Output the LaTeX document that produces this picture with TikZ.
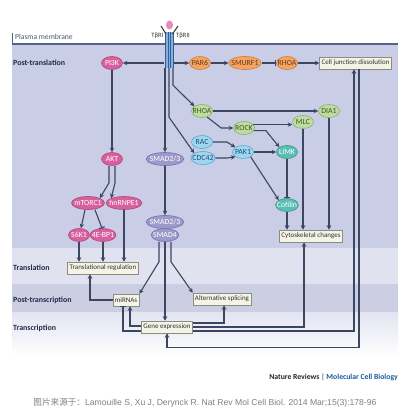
\documentclass[tikz,border=0pt]{standalone}
\usepackage{fontspec}
\setmainfont{Carlito}
\newfontfamily\cjkf{Noto Sans CJK SC}
\newfontfamily\arialf{Liberation Sans}
\usetikzlibrary{arrows.meta,shapes.geometric,calc}
\definecolor{bandA}{HTML}{C9CDE6}
\definecolor{bandB}{HTML}{E0E2F0}
\definecolor{bandC}{HTML}{CCCFE4}
\definecolor{bandD}{HTML}{E2E4F1}
\definecolor{memC}{HTML}{55628A}
\definecolor{lineC}{HTML}{3B4663}
\definecolor{lblC}{HTML}{1F2A4A}
\definecolor{pinkF}{HTML}{D7609E}
\definecolor{pinkD}{HTML}{B0457C}
\definecolor{orF}{HTML}{F3A463}
\definecolor{orD}{HTML}{D37A35}
\definecolor{orT}{HTML}{6B3A10}
\definecolor{grF}{HTML}{BEDCA0}
\definecolor{grD}{HTML}{86B26A}
\definecolor{grT}{HTML}{3D5A20}
\definecolor{blF}{HTML}{9DD6EE}
\definecolor{blD}{HTML}{55A8D0}
\definecolor{blT}{HTML}{1F4F7A}
\definecolor{tlF}{HTML}{5BBDB4}
\definecolor{tlD}{HTML}{36968E}
\definecolor{ppF}{HTML}{9C9ACB}
\definecolor{ppD}{HTML}{7471AA}
\definecolor{boxF}{HTML}{F4F4E6}
\definecolor{boxD}{HTML}{8C8C80}
\definecolor{boxT}{HTML}{333333}
\definecolor{recF}{HTML}{86B0DA}
\definecolor{recD}{HTML}{2D5E9A}
\definecolor{ligF}{HTML}{E58BBE}
\definecolor{natB}{HTML}{1A5C9E}
\begin{document}
\begin{tikzpicture}[x=1pt,y=-1pt,
  ov/.style={ellipse, draw, line width=0.6pt, inner xsep=-2pt, inner ysep=-1pt, minimum height=13pt, minimum width=21pt, font=\fontsize{7.8}{8}\selectfont},
  pinkn/.style={ov, fill=pinkF, draw=pinkD, text=white},
  orn/.style={ov, fill=orF, draw=orD, text=orT},
  grn/.style={ov, fill=grF, draw=grD, text=grT},
  bln/.style={ov, fill=blF, draw=blD, text=blT},
  tln/.style={ov, fill=tlF, draw=tlD, text=white},
  ppn/.style={ov, fill=ppF, draw=ppD, text=white},
  bx/.style={rectangle, draw=boxD, fill=boxF, line width=0.5pt, inner xsep=2pt, inner ysep=1pt, minimum height=12pt, font=\fontsize{7}{8}\selectfont, text=boxT},
  arr/.style={draw=lineC, line width=1.1pt, -{Stealth[length=4.5pt,width=4.5pt]}},
  inh/.style={draw=lineC, line width=1.1pt, -{Bar[width=6pt]}},
  lbl/.style={font=\bfseries\fontsize{7.9}{9}\selectfont, text=lblC, anchor=west, inner sep=0pt}
]
\useasboundingbox (0,0) rectangle (420,420);
\fill[white] (0,0) rectangle (420,420);
% bands
\fill[bandA] (12,44) rectangle (398,248);
\fill[bandB] (12,248) rectangle (398,284);
\fill[bandC] (12,284) rectangle (398,312);
\shade[top color=bandD, bottom color=white] (12,312) rectangle (398,356);
\draw[memC, line width=1.6pt] (12,44) -- (398,44);
\draw[memC, line width=0.6pt] (12,33) -- (12,44);
\node[anchor=west, inner sep=0pt, font=\fontsize{7.6}{9}\selectfont, text=lblC!80] (pm) at (15,37) {Plasma membrane};
\node[lbl] (l1) at (13,63) {Post-translation};
\node[lbl] (l2) at (13,268) {Translation};
\node[lbl] (l3) at (13,300) {Post-transcription};
\node[lbl] (l4) at (13,328) {Transcription};

% receptor
\node[rectangle, fill=recF, minimum width=9pt, minimum height=36pt, inner sep=0pt] (rec) at (169,50) {};
\foreach \xx in {165.5,168,170.5,173}{\draw[recD, line width=0.7pt] (\xx,32) -- (\xx,68);}
\draw[black!80, line width=1pt] (166,34) -- (161,26);
\draw[black!80, line width=1pt] (172.5,34) -- (178,26);
\node[ellipse, fill=ligF, minimum width=7pt, minimum height=9pt, inner sep=0pt] (lig) at (169.5,25) {};
\node[anchor=east, inner sep=0pt, font=\fontsize{6.6}{7}\selectfont, text=boxT] (t1) at (163.5,36) {TβRI};
\node[anchor=west, inner sep=0pt, font=\fontsize{6.6}{7}\selectfont, text=boxT] (t2) at (176,36) {TβRII};

% nodes
\node[pinkn] (pi3k) at (112,63) {PI3K};
\node[orn] (par6) at (200,63) {PAR6};
\node[orn] (smurf) at (245,63) {SMURF1};
\node[orn] (rhoaO) at (287,63) {RHOA};
\node[bx] (cjd) at (355.5,63) {Cell junction dissolution};
\node[grn] (rhoaG) at (202,111) {RHOA};
\node[grn] (rock) at (244,128) {ROCK};
\node[grn] (mlc) at (303,122) {MLC};
\node[grn] (dia) at (329,111) {DIA1};
\node[bln] (rac) at (202,142) {RAC};
\node[bln] (cdc) at (203,158) {CDC42};
\node[bln] (pak) at (243,152) {PAK1};
\node[tln] (limk) at (287,152) {LIMK};
\node[tln] (cof) at (287,205) {Cofilin};
\node[bx] (cyto) at (311,236) {Cytoskeletal changes};
\node[ppn] (smad) at (165,159) {SMAD2/3};
\node[ppn] (smadb) at (165,222) {SMAD2/3};
\node[ppn] (smad4) at (165,235) {SMAD4};
\node[pinkn] (akt) at (112,159) {AKT};
\node[pinkn] (mtor) at (88,203) {mTORC1};
\node[pinkn] (hnr) at (124,203) {hnRNPE1};
\node[pinkn] (s6k) at (79,235) {S6K1};
\node[pinkn] (ebp) at (103,235) {4E-BP1};
\node[bx] (trans) at (103,268) {Translational regulation};
\node[bx] (mir) at (126,300) {miRNAs};
\node[bx] (alt) at (222,299) {Alternative splicing};
\node[bx] (gene) at (167,327) {Gene expression};

% connectors top
\draw[arr] ([yshift=-13pt]rec.west) -- (pi3k.east);
\draw[arr] ([yshift=-13pt]rec.east) -- (par6.west);
\draw[arr] (par6.east) -- (smurf.west);
\draw[inh] (smurf.east) -- (rhoaO.west);
\draw[arr] (rhoaO.east) -- (cjd.west);
\draw[arr] ([xshift=-4pt]rec.south) -- (smad.north);
\draw[arr] (rec.south) -- ++(0,49) -- (cdc.north west);
\draw[arr] ([xshift=4pt]rec.south) -- ++(0,17) -- (rhoaG.north west);
\draw[arr] (rhoaG.east) -- (dia.west);
\draw[arr] (rhoaG.-50) -- ([xshift=-12pt]rock.west) -- (rock.west);
\draw[arr] (rock.20) -- (rock.20 -| mlc.west);
\draw[arr] (rock.-15) -- ++(12,0) -- (limk.north west);
\draw[arr] (rac.east) -- ++(14,0) -- (pak.north west);
\draw[arr] (cdc.east) -- ++(12,0) -- (pak.south west);
\draw[arr] (pak.east) -- (limk.west);
\draw[arr] (pak.south east) -- (cof.north west);
\draw[inh] (limk.south) -- (cof.north);
\draw[arr] (cof.south) -- (cof.south |- cyto.north);
\draw[arr] (mlc.south) -- (mlc.south |- cyto.north);
\draw[arr] (dia.south) -- (dia.south |- cyto.north);
% left branch
\draw[arr] (pi3k.south) -- (akt.north);
\draw[arr] ([xshift=-3pt]akt.south) -- ++(0,17) -- (mtor.north east);
\draw[arr] ([xshift=3pt]akt.south) -- ++(0,17) -- (hnr.north west);
\draw[arr] ([xshift=-3pt]mtor.south) -- ([xshift=2pt]s6k.north);
\draw[inh] ([xshift=7pt]mtor.south) -- ([xshift=-1pt]ebp.north);
\draw[arr] (s6k.south) -- (s6k.south |- trans.north);
\draw[arr] (ebp.south) -- (ebp.south |- trans.north);
\draw[arr] (hnr.south) -- (hnr.south |- trans.north);
% smad
\draw[arr] (smad.south) -- (smadb.north);
\draw[arr] ([xshift=-6pt]smad4.south) -- ++(0,20) -- (mir.north east);
\draw[arr] (smad4.south) -- (gene.north -| smad4.south);
\draw[arr] ([xshift=6pt]smad4.south) -- ++(0,20) -- (alt.north west);
% lower
\draw[arr] (mir.west) -| ([xshift=-13pt]trans.south);
\draw[arr] ([yshift=1pt]gene.west) -| ([xshift=4pt]mir.south);
\draw[inh] ([yshift=-4pt]gene.west) -| ([xshift=-3pt]mir.south);
\draw[arr] ([yshift=4pt]gene.east) -| ([xshift=2pt]alt.south);
\draw[arr] (gene.east) -| ([xshift=-7pt]cyto.south);
\draw[arr] ([yshift=-4pt]gene.east) -| ([xshift=-1.5pt]cjd.south);
\draw[arr] ([xshift=3.5pt]cjd.south) |- ($(gene.south)+(0,14)$) -- (gene.south);

% credits
\node[anchor=east, inner sep=0pt, font=\bfseries\fontsize{7.7}{9}\selectfont] (nat) at (398,377) {\textcolor{black!85}{Nature Reviews} \textcolor{black!60}{|} \textcolor{natB}{Molecular Cell Biology}};
\node[inner sep=0pt, text=black!50, font=\fontsize{8.6}{10}\selectfont] (cap) at (205,403) {{\cjkf 图片来源于：}{\arialf Lamouille S, Xu J, Derynck R. Nat Rev Mol Cell Biol. 2014 Mar;15(3):178-96}};
\end{tikzpicture}
\end{document}
